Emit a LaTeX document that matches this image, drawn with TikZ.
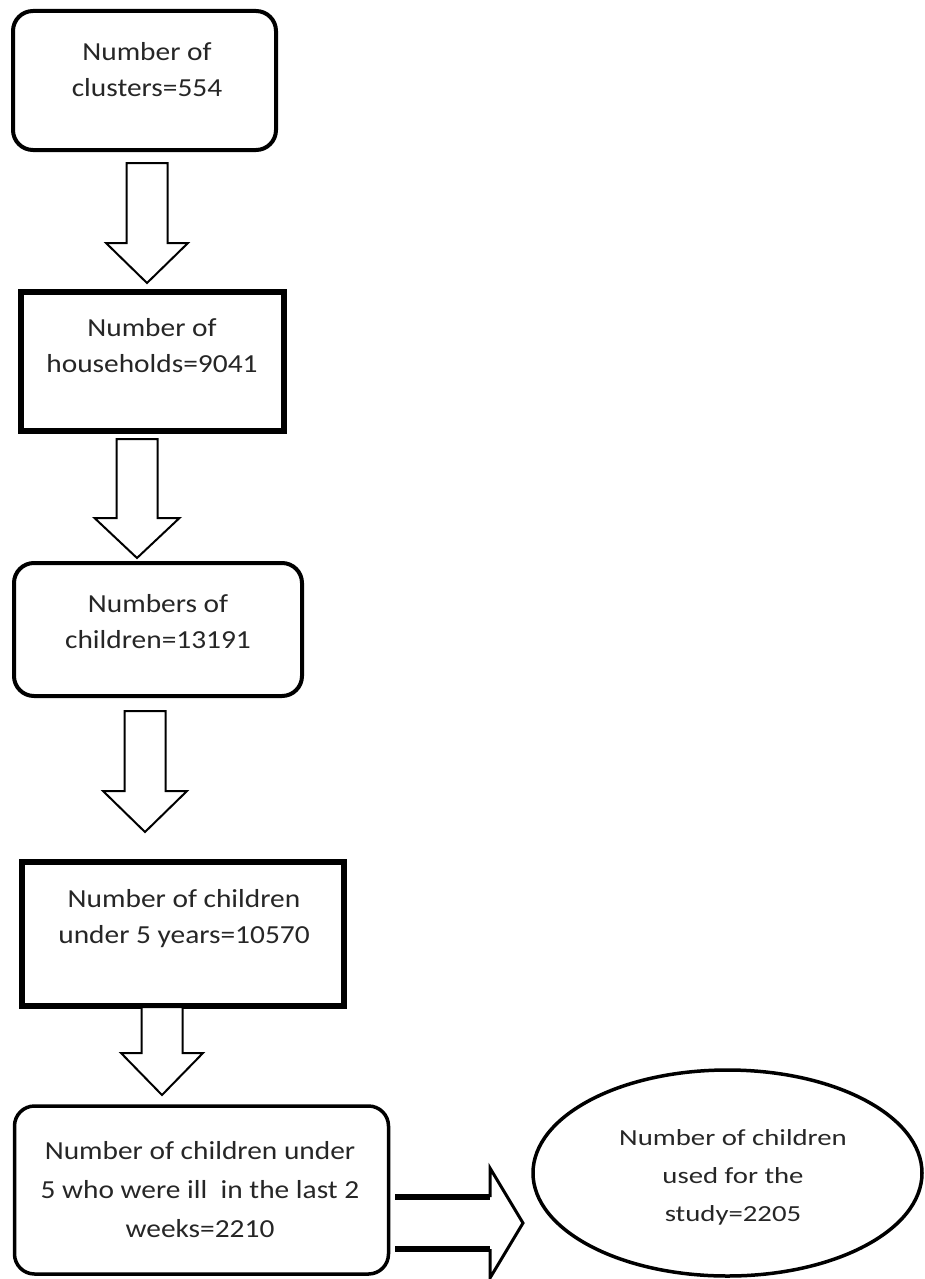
\documentclass[tikz,border=0pt]{standalone}
\usepackage{fontspec}
\setmainfont{Carlito}
\newfontfamily\fA[FakeStretch=1.13]{Carlito}
\newfontfamily\fC[FakeStretch=1.25]{Carlito}
\usetikzlibrary{shapes.geometric}
\tikzset{
  rbox/.style={draw, rounded corners=20pt, line width=4pt, fill=white, inner sep=0pt},
  sbox/.style={draw, line width=5.5pt, fill=white, inner sep=0pt},
  txt/.style={align=center, text=black!85, inner sep=0pt},
  ftA/.style={font=\fA\fontsize{26pt}{36pt}\selectfont},
  ftB/.style={font=\fA\fontsize{26pt}{39pt}\selectfont},
  ftC/.style={font=\fC\fontsize{23pt}{38pt}\selectfont},
  blockarrow/.style={draw, line width=2pt, fill=white, line join=miter},
}
\newcommand\bdown[6]{%
  \draw[blockarrow] ({#1-#5},#2) -- ({#1-#5},#3) -- ({#1-#6},#3) -- (#1,#4)
    -- ({#1+#6},#3) -- ({#1+#5},#3) -- ({#1+#5},#2) -- cycle;}
\begin{document}
\begin{tikzpicture}[x=1pt,y=-1pt]
\useasboundingbox (0,0) rectangle (924,1279);
% boxes
\node[rbox, minimum width=263pt, minimum height=139pt] (b1) at (144.5,80.5) {};
\node[txt, ftA] (t1) at (147,70) {Number of\\clusters=554};
\node[sbox, minimum width=263pt, minimum height=139pt] (b2) at (152.5,361.5) {};
\node[txt, ftA] (t2) at (152,346) {Number of\\households=9041};
\node[rbox, minimum width=288pt, minimum height=133pt] (b3) at (158,629.5) {};
\node[txt, ftA] (t3) at (158,622) {Numbers of\\children=13191};
\node[sbox, minimum width=322pt, minimum height=144pt] (b4) at (183,934) {};
\node[txt, ftA] (t4) at (184,919) {Number of children\\under 5 years=10570};
\node[rbox, line width=3.5pt, minimum width=374pt, minimum height=168pt] (b5) at (201.5,1190) {};
\node[txt, ftB] (t5) at (200,1190) {Number of children under\\5 who were ill\ \ in the last 2\\weeks=2210};
\node[ellipse, draw, line width=3.5pt, fill=white, minimum width=389pt, minimum height=206pt, inner sep=0pt] (e1) at (727.5,1173) {};
\node[txt, ftC] (t6) at (733,1177) {Number of children\\used for the\\study=2205};
% down arrows
\bdown{147}{163}{243}{283}{20.5}{41}
\bdown{137}{439}{518}{558}{20.5}{42.5}
\bdown{145}{711}{791}{832}{20.5}{42}
\bdown{162}{1007}{1053}{1095}{20.5}{41}
% right arrow
\coordinate (ra1) at (395,1197);
\coordinate (ra2) at (490,1197);
\coordinate (ra3) at (395,1249);
\coordinate (ra4) at (490,1249);
\fill[white] (ra1) -- (ra2) -- (490,1168) -- (523,1223) -- (490,1278) -- (ra4) -- (ra3) -- cycle;
\draw[line width=3pt, line join=miter] (ra2) -- (490,1168) -- (523,1223) -- (490,1278) -- (ra4);
\draw[line width=6pt] (ra1) -- (ra2);
\draw[line width=6pt] (ra3) -- (ra4);
\end{tikzpicture}
\end{document}
